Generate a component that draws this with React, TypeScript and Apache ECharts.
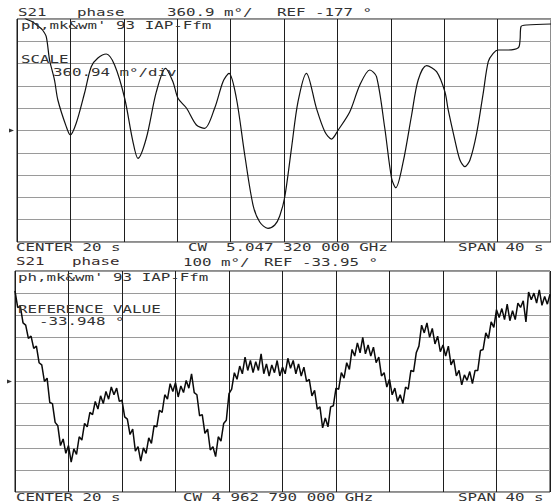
import React, { useEffect, useRef } from "react";
import * as echarts from "echarts";

// ---------- Top trace: S21 phase, 360.94 m°/div, REF -177° (values in m° relative to REF) ----------
const topTime = [0, 0.69, 1.16, 1.69, 1.91, 2.19, 2.44, 2.81, 3.06, 3.69, 3.99, 4.44, 5.06, 5.56, 6.06, 6.69, 7.31, 8.06, 8.66, 9.06, 9.69, 10.44, 11.13, 11.68, 12.06, 12.69, 13.44, 14.06, 14.81, 15.43, 15.88, 16.43, 17.06, 17.68, 18.18, 18.8, 19.31, 19.68, 20.06, 20.56, 21.05, 21.68, 22.43, 23.06, 23.56, 24.06, 24.93, 25.68, 26.43, 26.93, 27.55, 28.06, 28.38, 28.93, 29.56, 30.05, 30.68, 31.43, 32.05, 32.3, 32.8, 33.18, 33.55, 33.93, 34.43, 34.92, 35.3, 35.67, 36.05, 36.68, 37.55, 37.68, 37.75, 38.18, 40];
const topPhase = [1950, 1805, 1761, 1670, 1627, 1518, 1141, 817, 494, 62, -73, 121, 607, 1033, 1173, 1238, 1060, 526, -154, -450, -121, 628, 1007, 790, 521, 364, 89, 36, 364, 790, 926, 526, -397, -1206, -1481, -1583, -1530, -1384, -1072, -288, 466, 926, 359, -19, -138, 8, 304, 736, 979, 871, 36, -774, -926, -505, 251, 817, 1049, 952, 628, 332, -154, -477, -586, -477, -45, 602, 1114, 1250, 1303, 1303, 1340, 1465, 1680, 1708, 1724];

// ---------- Bottom trace: S21 phase, 100 m°/div, REF -33.95° (samples every 0.2 s, m° relative to REF) ----------
const bottomStep = 0.2;
const bottomPhase = [
  410, 335, 340, 265, 255, 195, 205, 150, 160, 85,
  75, 0, 15, -95, -100, -185, -200, -290, -260, -325,
  -290, -365, -305, -330, -250, -265, -190, -205, -140, -150,
  -90, -125, -65, -100, -45, -80, -25, -60, -30, -90,
  -85, -160, -170, -240, -215, -315, -295, -360, -300, -325,
  -255, -280, -200, -205, -130, -140, -60, -80, -10, -45,
  -5, -70, -20, -50, 5, -30, 35, -50, -60, -155,
  -150, -235, -215, -310, -295, -340, -250, -270, -190, -175,
  -55, -35, 40, 10, 70, 35, 110, 50, 95, 40,
  90, 50, 125, 35, 80, 25, 75, 40, 95, 25,
  65, 35, 105, 60, 95, 35, 80, 25, 65, 0,
  10, -65, -40, -125, -115, -210, -165, -205, -115, -110,
  -30, -35, 40, 15, 85, 55, 145, 115, 175, 130,
  200, 125, 165, 115, 155, 85, 110, 25, 40, -25,
  10, -60, -30, -90, -60, -100, -25, -35, 50, 45,
  130, 160, 255, 220, 265, 200, 240, 170, 205, 135,
  165, 115, 160, 75, 100, 25, 50, -15, 30, 5,
  45, -10, 50, 50, 140, 145, 220, 195, 270, 245,
  325, 290, 330, 280, 350, 275, 320, 280, 355, 335,
  365, 270, 405, 370, 400, 355, 415, 345, 385, 350,
  395,
];

// ---------- Scales ----------
const topScale = 360.94; // m°/div
const bottomScale = 100; // m°/div
const timeMin = 0;
const timeMax = 40;
const timeDiv = 4;

// ---------- Annotation texts ----------
const topTitle = ["S21", "phase", "360.9 m°/", "REF -177 °"];
const topInner = ["ph,mk&wm' 93 IAP-Ffm", "SCALE", "360.94 m°/div"];
const topFooter = ["CENTER 20 s", "CW  5.047 320 000 GHz", "SPAN 40 s"];
const bottomTitle = ["S21", "phase", "100 m°/", "REF -33.95 °"];
const bottomInner = ["ph,mk&wm' 93 IAP-Ffm", "REFERENCE VALUE", "-33.948 °"];
const bottomFooter = ["CENTER 20 s", "CW 4 962 790 000 GHz", "SPAN 40 s"];

const FONT = "DejaVu Sans Mono";
let uid = 0;
const txt = (text: string, x: number, y: number, fill = "#333333") => ({
  id: "t" + uid++,
  type: "text",
  x,
  y,
  scaleX: 1.58,
  z: 100,
  silent: true,
  style: {
    text,
    fill,
    fontSize: 10,
    fontFamily: FONT,
    align: "left",
    verticalAlign: "middle",
  },
});

export default function App() {
  const ref = useRef<HTMLDivElement>(null);
  useEffect(() => {
    if (!ref.current) return;
    uid = 0;
    const chart = echarts.init(ref.current, undefined, { renderer: "svg" });

    const topData = topTime.map((t, i) => [t, topPhase[i]]);
    const bottomData = bottomPhase.map((v, i) => [+(i * bottomStep).toFixed(2), v]);

    const xAxisBase = (gridIndex: number) => ({
      type: "value",
      gridIndex,
      min: timeMin,
      max: timeMax,
      interval: timeDiv,
      axisLine: { show: false },
      axisTick: { show: false },
      axisLabel: { show: false },
      splitLine: { show: true, lineStyle: { color: "#1e1e1e", width: 1 } },
    });
    const yAxisBase = (gridIndex: number, s: number) => ({
      type: "value",
      gridIndex,
      min: -5 * s,
      max: 5 * s,
      interval: s,
      axisLine: { show: false },
      axisTick: { show: false },
      axisLabel: { show: false },
      splitLine: { show: true, lineStyle: { color: "#9a9a9a", width: 1 } },
    });

    chart.setOption({
      animation: false,
      backgroundColor: "#ffffff",
      grid: [
        { left: 17, top: 19, width: 534, height: 223, show: true, borderColor: "#1a1a1a", borderWidth: 1, containLabel: false },
        { left: 15, top: 271, width: 535, height: 221, show: true, borderColor: "#1a1a1a", borderWidth: 1, containLabel: false },
      ],
      xAxis: [xAxisBase(0), xAxisBase(1)],
      yAxis: [yAxisBase(0, topScale), yAxisBase(1, bottomScale)],
      series: [
        {
          type: "line",
          xAxisIndex: 0,
          yAxisIndex: 0,
          data: topData,
          showSymbol: false,
          smooth: 0.3,
          clip: true,
          lineStyle: { color: "#111", width: 1.2 },
        },
        {
          type: "line",
          xAxisIndex: 1,
          yAxisIndex: 1,
          data: bottomData,
          showSymbol: false,
          clip: true,
          lineStyle: { color: "#0a0a0a", width: 1.5 },
        },
      ],
      graphic: {
        elements: [
          txt(topTitle[0], 18, 13),
          txt(topTitle[1], 77, 13),
          txt(topTitle[2], 167, 13),
          txt(topTitle[3], 277, 13),
          txt(topInner[0], 21, 26),
          txt(topInner[1], 21, 59.5),
          txt(topInner[2], 53, 72.5),
          txt(topFooter[0], 16, 248),
          txt(topFooter[1], 188, 248),
          txt(topFooter[2], 458, 248),
          txt(bottomTitle[0], 16, 262, "#3a2c2c"),
          txt(bottomTitle[1], 72, 262, "#3a2c2c"),
          txt(bottomTitle[2], 183, 263),
          txt(bottomTitle[3], 264, 263),
          txt(bottomInner[0], 18, 277.5),
          txt(bottomInner[1], 18, 310),
          txt(bottomInner[2], 39, 322),
          txt(bottomFooter[0], 16, 498),
          txt(bottomFooter[1], 183, 498),
          txt(bottomFooter[2], 458, 498),
          {
            id: "m1",
            type: "polygon",
            silent: true,
            shape: { points: [[9, 128.5], [14, 130.5], [9, 132.5]] },
            style: { fill: "#333" },
          },
          {
            id: "m2",
            type: "polygon",
            silent: true,
            shape: { points: [[7, 379.5], [12, 381.5], [7, 383.5]] },
            style: { fill: "#333" },
          },
        ],
      },
    });
    return () => chart.dispose();
  }, []);
  return (
    <div
      ref={ref}
      style={{ position: "fixed", left: 0, top: 0, width: 551, height: 503, background: "#fff" }}
    />
  );
}
